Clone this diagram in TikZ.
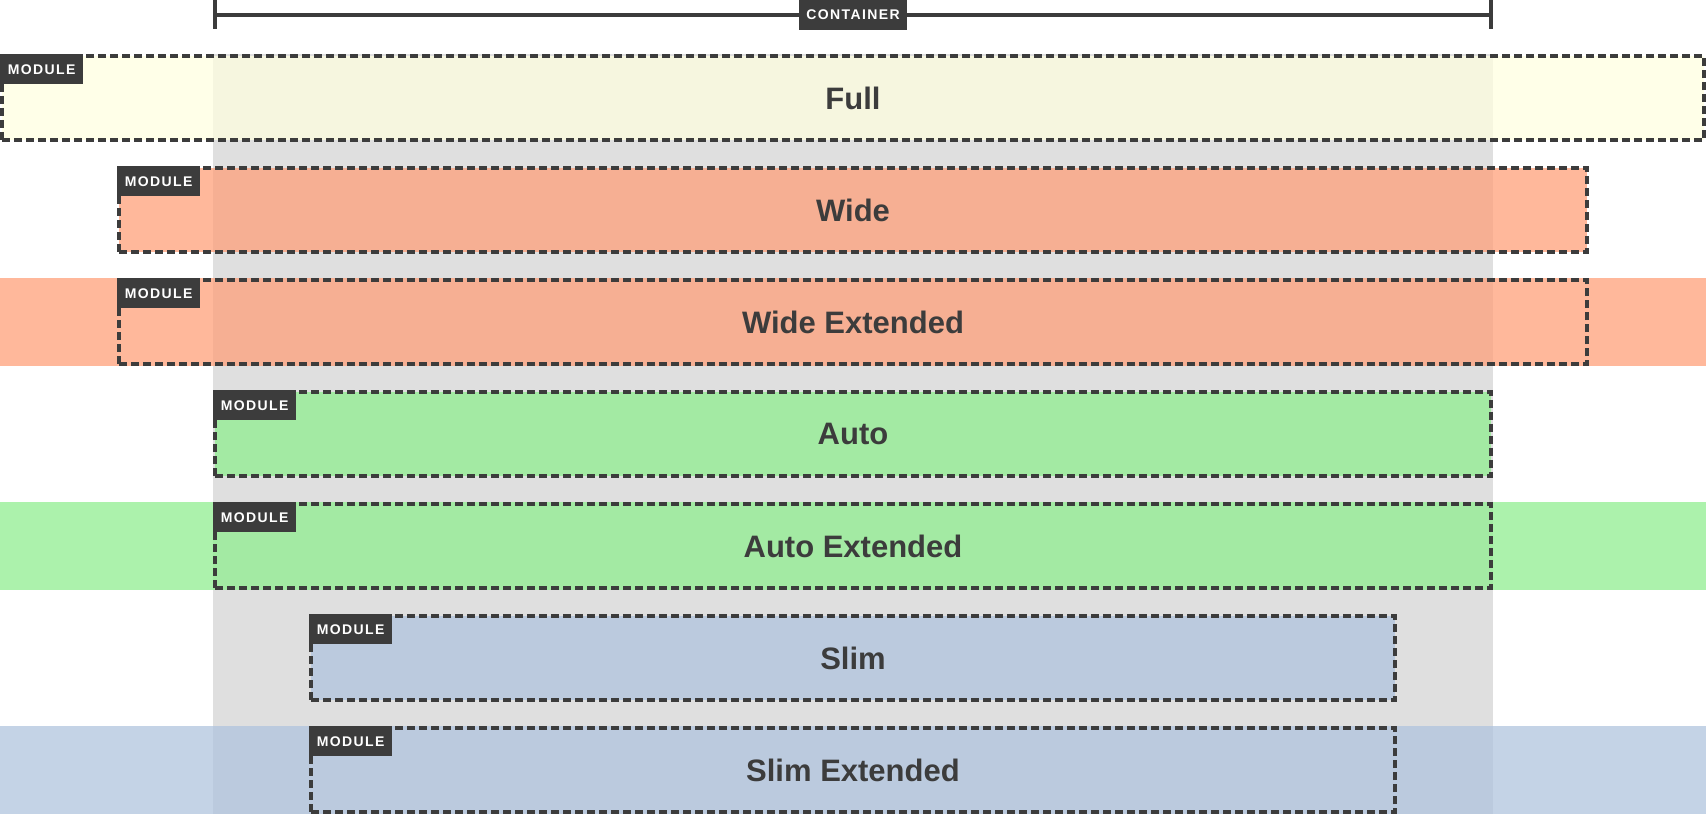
\documentclass[tikz,border=0pt]{standalone}
\usepackage{fontspec}
\setmainfont{Liberation Sans}
\usetikzlibrary{positioning}
\definecolor{ink}{HTML}{3C3C3C}
\definecolor{contgrey}{HTML}{DFDFDF}
\definecolor{fullc}{HTML}{FFFFE0}
\definecolor{widec}{HTML}{FFA07A}
\definecolor{autoc}{HTML}{90EE90}
\definecolor{slimc}{HTML}{B0C4DE}
\begin{document}
\begin{tikzpicture}[x=1pt,y=-1pt]
  \tikzstyle{module}=[draw=ink,line width=4pt,dash pattern=on 8pt off 4pt,fill opacity=0.75,text opacity=1,
    minimum height=84pt,inner sep=0pt,text=ink,font={\bfseries\fontsize{31}{31}\selectfont}]
  \tikzstyle{tag}=[fill=ink,text=white,minimum width=83pt,minimum height=30pt,inner sep=0pt,anchor=north west,
    font={\bfseries\fontsize{14}{14}\selectfont\addfontfeature{LetterSpace=10}}]
  \tikzstyle{band}=[fill opacity=0.75]
  \useasboundingbox (0,0) rectangle (1706,814);
  % container
  \fill[contgrey] (213,54) rectangle (1493,814);
  \coordinate (cleft)  at (215,15);
  \coordinate (cright) at (1491,15);
  \draw[ink,line width=4pt] (cleft) -- (cright);
  \draw[ink,line width=4pt] (215,0) -- (215,29);
  \draw[ink,line width=4pt] (1491,0) -- (1491,29);
  \node[tag,anchor=center,minimum width=108pt] (containertag) at (853,15) {CONTAINER};
  % extended bands
  \fill[widec,band] (0,278) rectangle (1706,366);
  \fill[autoc,band] (0,502) rectangle (1706,590);
  \fill[slimc,band] (0,726) rectangle (1706,814);
  % modules
  \node[module,fill=fullc,minimum width=1702pt] (full)    at (853,98)  {Full};
  \node[module,fill=widec,minimum width=1468pt] (wide)    at (853,210) {Wide};
  \node[module,minimum width=1468pt]            (wideext) at (853,322) {Wide Extended};
  \node[module,fill=autoc,minimum width=1276pt] (auto)    at (853,434) {Auto};
  \node[module,minimum width=1276pt]            (autoext) at (853,546) {Auto Extended};
  \node[module,fill=slimc,minimum width=1084pt] (slim)    at (853,658) {Slim};
  \node[module,minimum width=1084pt]            (slimext) at (853,770) {Slim Extended};
  % tags
  \node[tag] (fulltag)    at (full.north west)    {MODULE};
  \node[tag] (widetag)    at (wide.north west)    {MODULE};
  \node[tag] (wideexttag) at (wideext.north west) {MODULE};
  \node[tag] (autotag)    at (auto.north west)    {MODULE};
  \node[tag] (autoexttag) at (autoext.north west) {MODULE};
  \node[tag] (slimtag)    at (slim.north west)    {MODULE};
  \node[tag] (slimexttag) at (slimext.north west) {MODULE};
\end{tikzpicture}
\end{document}
